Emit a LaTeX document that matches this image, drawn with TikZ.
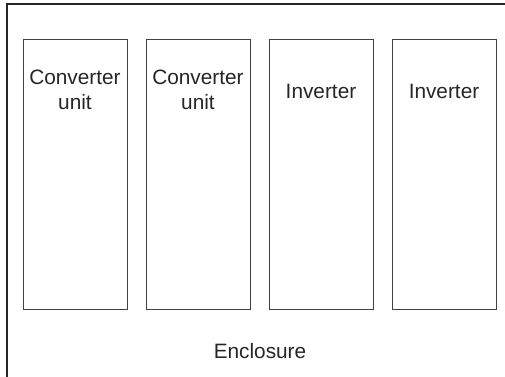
\documentclass[tikz,border=0pt]{standalone}
\usepackage{fontspec}
\setmainfont{Liberation Sans}
\begin{document}
\begin{tikzpicture}[x=1pt,y=-1pt,
  unitbox/.style={draw=black!75,line width=1.4pt,minimum width=104pt,minimum height=270pt,inner sep=0pt,anchor=north west},
  lbl/.style={font=\fontsize{20.8}{25}\selectfont,text=black!85,align=center,inner sep=0pt},
  encbox/.style={draw=black!85,line width=1.5pt}]
\useasboundingbox (0,0) rectangle (505,376);
\draw[encbox] (7,4) rectangle (520,390);
\node[unitbox] (u1) at (23,39) {};
\node[unitbox] (u2) at (146,39) {};
\node[unitbox] (u3) at (269,39) {};
\node[unitbox] (u4) at (392,39) {};
\node[lbl,anchor=base] (t1) at (75,109) {Converter\\unit};
\node[lbl,anchor=base] (t2) at (198,109) {Converter\\unit};
\node[lbl,anchor=base] (t3) at (321,98) {Inverter};
\node[lbl,anchor=base] (t4) at (444,98) {Inverter};
\node[lbl,anchor=base] (enc) at (260,358) {Enclosure};
\end{tikzpicture}
\end{document}
